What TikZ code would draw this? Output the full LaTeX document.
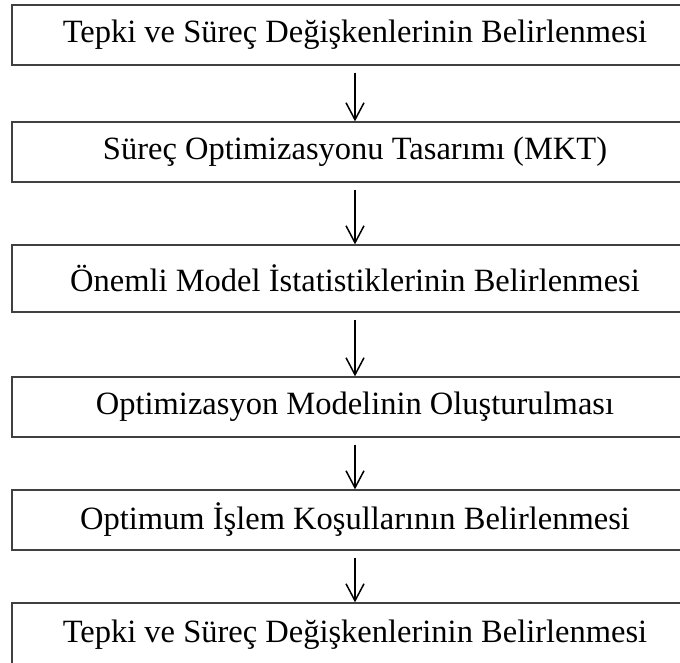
\documentclass[tikz,border=0pt]{standalone}
\usepackage{fontspec}
\setmainfont{Liberation Serif}
\usetikzlibrary{arrows.meta}

\begin{document}
\begin{tikzpicture}[x=1pt,y=-1pt,
    stepbox/.style={draw=black!75, line width=1.3pt, minimum width=686pt, inner sep=0pt,
      font=\fontsize{32.5}{38}\selectfont},
    flow/.style={-{Straight Barb[length=17pt,width=18pt]}, line width=1.5pt, shorten <=7pt}]
    \useasboundingbox (0,0) rectangle (680,663);
    \node[stepbox, minimum height=60pt] (b1) at (355,35) {Tepki ve Süreç Değişkenlerinin Belirlenmesi};
    \node[stepbox, minimum height=60pt] (b2) at (355,152) {Süreç Optimizasyonu Tasarımı (MKT)};
    \node[stepbox, minimum height=67pt] (b3) at (355,278.5) {Önemli Model İstatistiklerinin Belirlenmesi};
    \node[stepbox, minimum height=60pt] (b4) at (355,407) {Optimizasyon Modelinin Oluşturulması};
    \node[stepbox, minimum height=60pt] (b5) at (355,520) {Optimum İşlem Koşullarının Belirlenmesi};
    \node[stepbox, minimum height=64pt] (b6) at (355,635) {Tepki ve Süreç Değişkenlerinin Belirlenmesi};
    \draw[flow] (b1) -- (b2);
    \draw[flow] (b2) -- (b3);
    \draw[flow] (b3) -- (b4);
    \draw[flow] (b4) -- (b5);
    \draw[flow] (b5) -- (b6);
\end{tikzpicture}
\end{document}
